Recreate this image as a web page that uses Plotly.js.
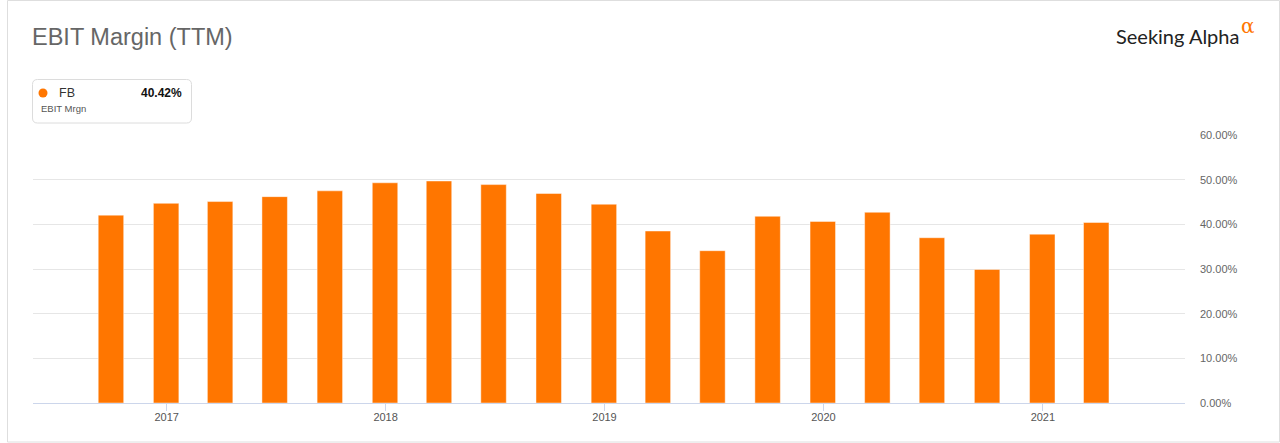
<!DOCTYPE html>
<html>
<head>
<meta charset="utf-8">
<script src="https://cdn.plot.ly/plotly-3.0.1.min.js"></script>
<style>
html,body{margin:0;padding:0;background:#fff;}
#chart{width:1280px;height:443px;}
</style>
</head>
<body>
<div id="chart"></div>
<script>
// ---- data ----
const quarterEnds = ['2016-09-30','2016-12-31','2017-03-31','2017-06-30','2017-09-30','2017-12-31',
  '2018-03-31','2018-06-30','2018-09-30','2018-12-31','2019-03-31','2019-06-30','2019-09-30',
  '2019-12-31','2020-03-31','2020-06-30','2020-09-30','2020-12-31','2021-03-31'];
const ebitMargin = [42.06,44.7,45.1,46.2,47.5,49.3,49.7,48.9,46.9,44.5,38.5,34.1,41.8,40.65,42.7,37.0,29.9,37.8,40.42];
const yTickVals = [0,10,20,30,40,50,60];
const yTickText = ['0.00%','10.00%','20.00%','30.00%','40.00%','50.00%','60.00%'];
const chartTitle = 'EBIT Margin (TTM)';
const seriesName = 'FB';
const seriesLabel = 'EBIT Mrgn';
const lastValueText = '40.42%';

// ---- layout helpers ----
const W = 1280, H = 443;
const M = {l:33, r:95, t:135, b:40};
const PW = W - M.l - M.r, PH = H - M.t - M.b;
const px = x => (x - M.l) / PW;
const py = y => (H - M.b - y) / PH;
const ORANGE = '#ff7600';

function roundRect(x0, y0, x1, y1, r) {
  const p = [];
  p.push('M' + px(x0 + r) + ',' + py(y0));
  p.push('L' + px(x1 - r) + ',' + py(y0));
  p.push('Q' + px(x1) + ',' + py(y0) + ' ' + px(x1) + ',' + py(y0 + r));
  p.push('L' + px(x1) + ',' + py(y1 - r));
  p.push('Q' + px(x1) + ',' + py(y1) + ' ' + px(x1 - r) + ',' + py(y1));
  p.push('L' + px(x0 + r) + ',' + py(y1));
  p.push('Q' + px(x0) + ',' + py(y1) + ' ' + px(x0) + ',' + py(y1 - r));
  p.push('L' + px(x0) + ',' + py(y0 + r));
  p.push('Q' + px(x0) + ',' + py(y0) + ' ' + px(x0 + r) + ',' + py(y0));
  p.push('Z');
  return p.join(' ');
}

const trace = {
  type: 'bar',
  x: quarterEnds,
  y: ebitMargin,
  width: 3.67e9,
  marker: {color: ORANGE, line: {color: 'rgba(255,255,255,0.45)', width: 1}},
  hoverinfo: 'x+y'
};

const layout = {
  width: W, height: H,
  margin: M,
  paper_bgcolor: '#fff',
  plot_bgcolor: '#fff',
  showlegend: false,
  font: {family: '"Liberation Sans", Arial, sans-serif', color: '#666'},
  xaxis: {
    type: 'date',
    range: ['2016-05-23', '2021-08-26'],
    tick0: '2017-01-01',
    dtick: 'M12',
    tickformat: '%Y',
    ticks: 'outside',
    ticklen: 7,
    tickwidth: 1,
    tickcolor: '#ccd6eb',
    ticklabelstandoff: -3,
    showline: true,
    linecolor: '#ccd6eb',
    linewidth: 1,
    showgrid: false,
    zeroline: false,
    tickfont: {size: 11, color: '#555'},
    fixedrange: true
  },
  yaxis: {
    side: 'right',
    range: [0, 60],
    tickvals: yTickVals,
    ticktext: yTickText,
    showgrid: true,
    gridcolor: '#e6e6e6',
    gridwidth: 1,
    zeroline: false,
    showline: false,
    ticks: '',
    ticklabelstandoff: 14,
    tickfont: {size: 11, color: '#666'},
    fixedrange: true
  },
  shapes: [
    {type: 'rect', xref: 'paper', yref: 'paper', x0: px(7.5), x1: px(1279.5), y0: py(0.5), y1: py(442),
     line: {color: '#dedede', width: 1}, fillcolor: 'rgba(0,0,0,0)', layer: 'below'},
    {type: 'path', xref: 'paper', yref: 'paper', path: roundRect(32.5, 79.5, 191.5, 123, 5),
     line: {color: '#dcdcdc', width: 1}, fillcolor: '#fff'},
    {type: 'circle', xref: 'paper', yref: 'paper', x0: px(38.5), x1: px(47.5), y0: py(88.5), y1: py(97.5),
     line: {width: 0}, fillcolor: ORANGE}
  ],
  annotations: [
    {xref: 'paper', yref: 'paper', x: px(30), y: py(37), xanchor: 'left', yanchor: 'middle',
     text: chartTitle, showarrow: false, font: {size: 23.5, color: '#666'}},
    {xref: 'paper', yref: 'paper', x: px(57), y: py(92.5), xanchor: 'left', yanchor: 'middle',
     text: seriesName, showarrow: false, font: {size: 12.5, color: '#333'}},
    {xref: 'paper', yref: 'paper', x: px(184), y: py(92.5), xanchor: 'right', yanchor: 'middle',
     text: '<b>' + lastValueText + '</b>', showarrow: false, font: {size: 12, color: '#111'}},
    {xref: 'paper', yref: 'paper', x: px(39), y: py(108), xanchor: 'left', yanchor: 'middle',
     text: seriesLabel, showarrow: false, font: {size: 9.5, color: '#555'}},
    {xref: 'paper', yref: 'paper', x: px(1114), y: py(36), xanchor: 'left', yanchor: 'middle',
     text: 'Seeking Alpha', showarrow: false, font: {family: 'Lato, sans-serif', size: 20, color: '#222'}},
    {xref: 'paper', yref: 'paper', x: px(1239), y: py(26.5), xanchor: 'left', yanchor: 'middle',
     text: 'α', showarrow: false, font: {family: '"DejaVu Serif", serif', size: 20, color: ORANGE}}
  ]
};

Plotly.newPlot('chart', [trace], layout, {displayModeBar: false});
</script>
</body>
</html>
